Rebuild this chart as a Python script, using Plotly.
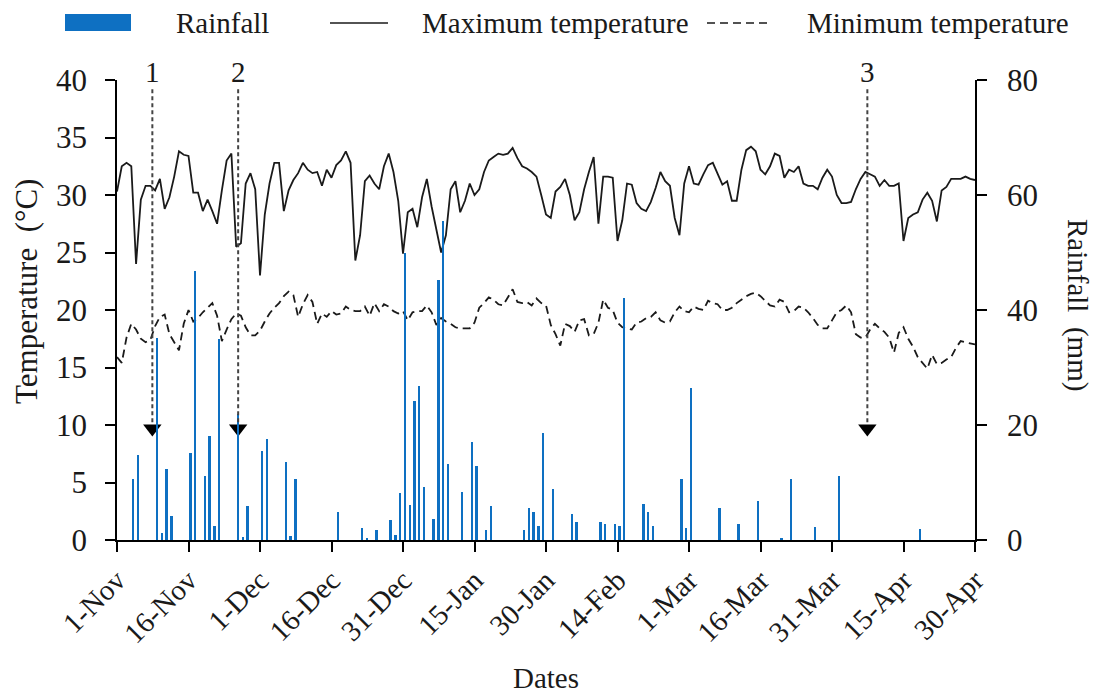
import plotly.graph_objects as go
import pandas as pd

# ---------------- data ----------------
start_date = "2018-11-01"

tmax = [30.3, 32.5, 32.8, 32.5, 24.0, 29.6, 30.8, 30.8, 30.4, 31.4,
        28.8, 29.8, 31.6, 33.8, 33.5, 33.4, 30.2, 30.2, 28.6, 29.6,
        28.6, 27.5, 30.4, 33.0, 33.6, 25.5, 25.8, 31.0, 31.9, 30.5,
        23.0, 28.3, 31.0, 32.8, 32.8, 28.6, 30.4, 31.3, 31.9, 32.8,
        32.2, 31.9, 32.0, 30.8, 32.2, 31.5, 32.6, 33.0, 33.8, 32.8,
        24.3, 26.5, 31.2, 31.7, 31.0, 30.5, 32.5, 33.6, 32.0, 29.5,
        24.9, 28.5, 28.8, 27.2, 29.8, 31.4, 29.0, 27.0, 25.0, 26.5,
        30.5, 31.2, 28.5, 29.5, 31.0, 30.0, 30.5, 32.0, 33.0, 33.3,
        33.6, 33.5, 33.6, 34.1, 33.2, 32.5, 32.3, 32.0, 31.6, 30.0,
        28.3, 28.0, 30.3, 30.7, 31.4, 30.0, 27.8, 28.5, 30.5, 32.0,
        33.3, 27.5, 31.6, 31.6, 31.5, 26.0, 27.8, 31.0, 30.9, 29.3,
        28.8, 28.6, 29.4, 30.6, 32.0, 31.2, 30.8, 28.0, 26.5, 31.0,
        32.5, 31.0, 30.9, 31.8, 32.6, 32.8, 31.9, 30.9, 31.2, 29.5,
        29.5, 32.2, 33.9, 34.2, 33.8, 32.2, 31.8, 32.5, 33.6, 33.4,
        31.5, 32.2, 32.0, 32.5, 31.0, 30.8, 30.8, 30.5, 31.5, 32.2,
        31.6, 30.0, 29.3, 29.3, 29.4, 30.5, 31.4, 32.0, 31.8, 31.6,
        30.8, 31.3, 30.8, 30.8, 31.0, 26.0, 28.0, 28.3, 28.5, 29.6,
        30.2, 29.5, 27.7, 30.4, 30.7, 31.4, 31.4, 31.4, 31.6, 31.4,
        31.3]

tmin = [15.9, 15.4, 17.6, 18.8, 18.3, 17.5, 17.2, 17.4, 18.6, 19.4,
        19.6, 17.9, 17.2, 16.5, 18.8, 20.0, 19.0, 19.3, 19.8, 20.2,
        20.6, 19.5, 17.3, 18.3, 19.2, 19.7, 19.5, 18.5, 17.8, 17.8,
        18.2, 19.0, 19.7, 20.2, 20.6, 21.2, 21.6, 21.3, 19.4, 20.5,
        21.3, 20.7, 18.8, 19.7, 19.4, 19.9, 19.6, 19.7, 20.3, 20.0,
        19.9, 19.9, 20.3, 19.5, 20.6, 19.9, 20.5, 20.3, 19.9, 19.7,
        19.9, 19.1, 19.8, 19.9, 19.9, 20.4, 19.8, 18.7, 19.3, 19.0,
        18.8, 18.5, 18.4, 18.4, 18.4, 18.9, 20.2, 20.6, 21.1, 20.9,
        20.5, 20.4, 21.1, 21.8, 20.7, 20.6, 20.7, 20.4, 21.0, 20.6,
        20.4, 18.7, 17.9, 16.9, 18.8, 18.6, 18.1, 19.1, 19.2, 17.8,
        17.9, 18.9, 20.9, 20.2, 20.0, 18.9, 18.5, 18.4, 18.3, 18.9,
        19.0, 19.3, 19.4, 19.8, 19.1, 18.9, 19.0, 19.8, 20.3, 19.9,
        19.8, 20.3, 20.1, 20.0, 20.8, 20.6, 20.5, 20.0, 20.0, 20.2,
        20.6, 20.9, 21.2, 21.4, 21.5, 21.2, 20.8, 20.4, 20.3, 20.9,
        20.7, 19.8, 19.9, 20.3, 20.2, 19.8, 19.3, 18.7, 18.4, 18.4,
        19.1, 19.8, 20.0, 20.4, 19.8, 17.9, 17.6, 17.6, 18.3, 18.8,
        18.4, 18.1, 17.6, 16.3, 18.0, 18.5, 17.5, 16.8, 15.9, 15.4,
        14.9, 16.1, 15.3, 15.4, 15.7, 15.9, 16.7, 17.3, 17.2, 17.1,
        17.0]

rain_days = [3, 4, 8, 9, 10, 11, 15, 16, 18, 19, 20, 21, 25, 26, 27,
             30, 31, 35, 36, 37, 46, 51, 52, 54, 57, 58, 59, 60, 61, 62,
             63, 64, 66, 67, 68, 69, 72, 74, 75, 77, 78, 85, 86, 87, 88,
             89, 91, 95, 96, 101, 102, 104, 105, 106, 110, 111, 112, 118,
             119, 120, 126, 130, 134, 139, 141, 146, 151, 168]
rain_mm = [10.6, 14.7, 35.2, 1.2, 12.3, 4.2, 15.1, 46.7, 11.2, 18.1, 2.5,
           34.9, 22.0, 0.5, 6.0, 15.4, 17.5, 13.6, 0.7, 10.6, 4.9, 2.1,
           0.4, 1.7, 3.5, 0.9, 8.1, 49.9, 6.1, 24.1, 26.8, 9.2, 3.6, 45.3,
           55.4, 13.3, 8.4, 17.1, 12.9, 1.7, 6.0, 1.7, 5.6, 4.9, 2.5, 18.6,
           8.8, 4.5, 3.2, 3.2, 2.8, 2.8, 2.4, 42.1, 6.3, 4.9, 2.5, 10.6,
           2.1, 26.5, 5.6, 2.8, 6.7, 0.4, 10.6, 2.2, 11.2, 1.9]

tick_labels = ["1-Nov", "16-Nov", "1-Dec", "16-Dec", "31-Dec", "15-Jan",
               "30-Jan", "14-Feb", "1-Mar", "16-Mar", "31-Mar", "15-Apr",
               "30-Apr"]

event_days = [7, 25, 157]
event_labels = ["1", "2", "3"]

series_names = ["Rainfall", "Maximum temperature", "Minimum temperature"]

# ---------------- styling ----------------
FONT = "Liberation Serif, Times New Roman, serif"
FS = 29
INK = "#1a1a1a"
BLUE = "#0E70C2"
W, H = 1098, 695
PLOT_L, PLOT_R, PLOT_T, PLOT_B = 117, 975, 80, 540   # pixels
L, T, R, B = PLOT_L, PLOT_T, W - PLOT_R, H - PLOT_B
PW, PH = PLOT_R - PLOT_L, PLOT_B - PLOT_T


def px_x(px):
    return (px - PLOT_L) / PW


def px_y(py):
    return (PLOT_B - py) / PH


dates = pd.date_range(start_date, periods=len(tmax), freq="D")
day_shift = pd.Timedelta(hours=10)
rain_x = [dates[d] + day_shift for d in rain_days]
event_x = [dates[d] + day_shift for d in event_days]

fig = go.Figure()

fig.add_trace(go.Scatter(x=dates, y=tmax, mode="lines", name=series_names[1],
                         line=dict(color=INK, width=1.8), showlegend=False))
fig.add_trace(go.Scatter(x=dates, y=tmin, mode="lines", name=series_names[2],
                         line=dict(color=INK, width=1.8, dash="8px,5px"),
                         showlegend=False))
fig.add_trace(go.Bar(x=rain_x, y=rain_mm, name=series_names[0], yaxis="y2",
                     marker=dict(color=BLUE, line=dict(width=0)),
                     width=0.5 * 86400000, showlegend=False))

# event arrows
for ex, lab in zip(event_x, event_labels):
    fig.add_shape(type="line", xref="x", yref="y", x0=ex, x1=ex, y0=39.2, y1=10.0,
                  line=dict(color="#444444", width=2, dash="4px,3px"))
    fig.add_annotation(x=ex, xref="x", y=px_y(72), yref="paper", text=lab,
                       showarrow=False, font=dict(family=FONT, size=FS, color=INK),
                       xanchor="center", yanchor="middle", borderpad=0)
fig.add_trace(go.Scatter(x=event_x, y=[9.7] * len(event_x), mode="markers",
                         marker=dict(symbol="triangle-down", size=16, color="black"),
                         showlegend=False, hoverinfo="skip"))

# custom legend
fig.add_shape(type="rect", xref="paper", yref="paper",
              x0=px_x(65), x1=px_x(131), y0=px_y(31), y1=px_y(14),
              fillcolor=BLUE, line=dict(width=0))
fig.add_shape(type="line", xref="paper", yref="paper",
              x0=px_x(330), x1=px_x(388), y0=px_y(23), y1=px_y(23),
              line=dict(color=INK, width=1.6))
fig.add_shape(type="line", xref="paper", yref="paper",
              x0=px_x(707), x1=px_x(771), y0=px_y(23), y1=px_y(23),
              line=dict(color=INK, width=1.6, dash="8px,5px"))
for txt, xl in zip(series_names, [175, 421, 806]):
    fig.add_annotation(x=px_x(xl), y=px_y(23), xref="paper", yref="paper",
                       text=txt, showarrow=False, xanchor="left", yanchor="middle",
                       borderpad=0, font=dict(family=FONT, size=FS, color=INK))

# axis titles
fig.add_annotation(x=px_x(26), y=px_y(292), xref="paper", yref="paper",
                   text="Temperature  (°C)", textangle=-90, showarrow=False,
                   xanchor="center", yanchor="middle",
                   font=dict(family=FONT, size=31, color=INK))
fig.add_annotation(x=px_x(1078), y=px_y(305), xref="paper", yref="paper",
                   text="Rainfall  (mm)", textangle=90, showarrow=False,
                   xanchor="center", yanchor="middle",
                   font=dict(family=FONT, size=FS, color=INK))
fig.add_annotation(x=px_x(546), y=px_y(678), xref="paper", yref="paper",
                   text="Dates", showarrow=False,
                   xanchor="center", yanchor="middle",
                   font=dict(family=FONT, size=FS, color=INK))

axis_common = dict(showgrid=False, zeroline=False, showline=True,
                   linecolor="black", linewidth=1.5, ticks="outside",
                   ticklen=10, tickwidth=1.5, tickcolor="black")

fig.update_layout(
    width=W, height=H,
    margin=dict(l=L, r=R, t=T, b=B, autoexpand=False),
    paper_bgcolor="white", plot_bgcolor="white",
    showlegend=False, bargap=0,
    xaxis=dict(type="date", range=[dates[0], dates[-1]],
               tickvals=list(dates[::15]), ticktext=tick_labels,
               tickangle=-45, tickfont=dict(family=FONT, size=FS, color=INK),
               **axis_common),
    yaxis=dict(range=[0, 40], tickvals=list(range(0, 41, 5)),
               ticklabelstandoff=12,
               tickfont=dict(family=FONT, size=31, color=INK), **axis_common),
    yaxis2=dict(range=[0, 80], tickvals=list(range(0, 81, 20)), overlaying="y",
                side="right", ticklabelstandoff=14,
                tickfont=dict(family=FONT, size=31, color=INK), **axis_common),
)

fig.write_html("out.html",
               config={"displayModeBar": False},
               post_script="document.body.style.margin='0';"
                           "document.body.style.overflow='hidden';")
